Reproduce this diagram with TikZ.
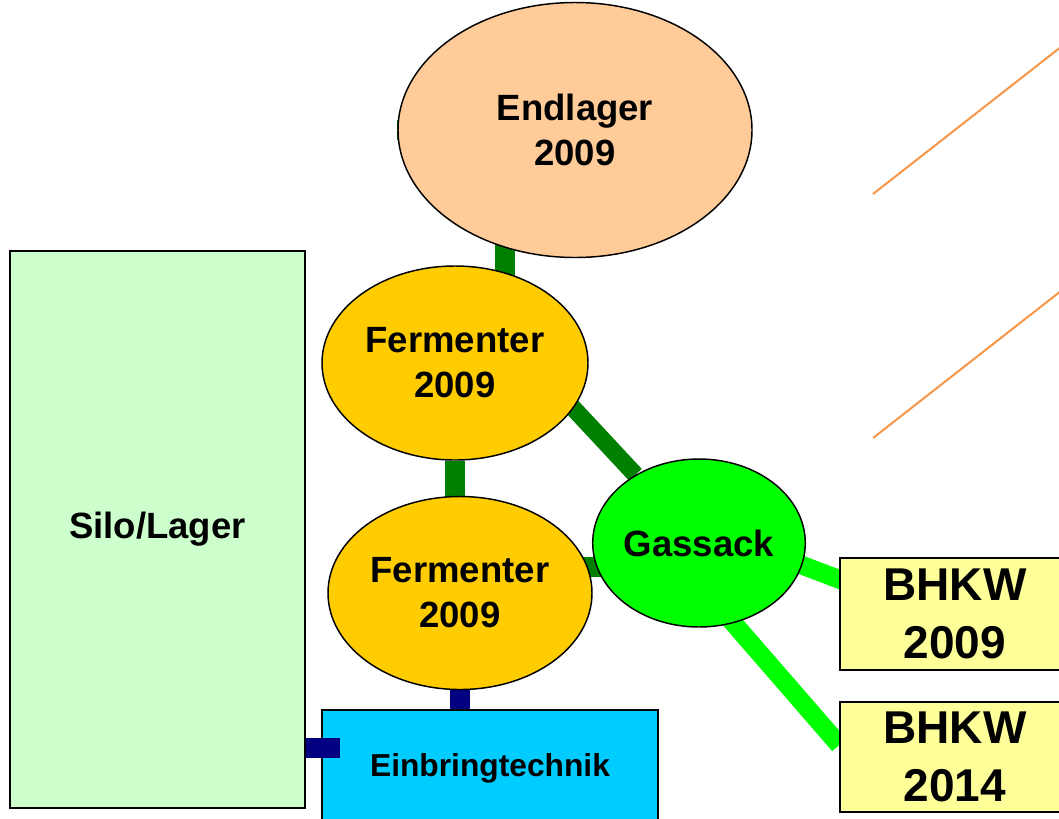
\documentclass[tikz,border=0pt]{standalone}
\usepackage{fontspec}
\setmainfont{Liberation Sans}
\usetikzlibrary{calc,shapes.geometric,backgrounds}
\definecolor{peach}{HTML}{FFCC99}
\definecolor{gold}{HTML}{FFCC00}
\definecolor{gasgreen}{HTML}{00FF00}
\definecolor{silogreen}{HTML}{CCFFCC}
\definecolor{feedcyan}{HTML}{00CCFF}
\definecolor{chpyellow}{HTML}{FFFF99}
\definecolor{pipegreen}{HTML}{007F00}
\definecolor{feednavy}{HTML}{000080}
\definecolor{leader}{HTML}{F79646}

\begin{document}
\begin{tikzpicture}[x=0.75pt,y=-0.75pt,
  tank/.style={ellipse,draw=black,line width=1.1pt,inner sep=0pt,align=center,
               font=\fontsize{27.4}{33.75}\selectfont\bfseries},
  block/.style={rectangle,draw=black,line width=1.1pt,inner sep=0pt,align=center},
  pipe/.style={line width=15pt,draw=pipegreen},
  gaspipe/.style={line width=14pt,draw=gasgreen},
  feedpipe/.style={line width=15pt,draw=feednavy}]
  \path[use as bounding box] (0,0) rectangle (1059,818);
  \clip (0,0) rectangle (1059,818);

  % ---- storage and digesters ----------------------------------------------
  \node[tank,fill=peach,minimum width=265.5pt,minimum height=191.25pt]
        (endlager) at (575,130) {Endlager\\2009};
  \node[tank,fill=gold,minimum width=199.5pt,minimum height=145.5pt]
        (ferm1) at (455,363) {Fermenter\\2009};
  \node[tank,fill=gold,minimum width=198pt,minimum height=144.75pt]
        (ferm2) at (460,593) {Fermenter\\2009};
  \node[tank,fill=gasgreen,minimum width=159pt,minimum height=126pt]
        (gassack) at (699,543) {Gassack};

  % ---- silo, feeding, CHP units ------------------------------------------
  \node[block,fill=silogreen,minimum width=221.25pt,minimum height=417.75pt,
        font=\fontsize{27.4}{33.75}\selectfont\bfseries]
        (silo) at (157.5,529.5) {Silo/Lager};
  \node[block,fill=feedcyan,minimum width=252pt,minimum height=87pt,
        font=\fontsize{23.8}{28}\selectfont\bfseries]
        (einbring) at (490,768) {Einbringtechnik};
  \node[block,fill=chpyellow,minimum width=172.5pt,minimum height=84pt,
        font=\fontsize{34.5}{44}\selectfont\bfseries]
        (bhkw1) at (955,614) {BHKW\\2009};
  \node[block,fill=chpyellow,minimum width=172.5pt,minimum height=82.5pt,
        font=\fontsize{34.5}{44}\selectfont\bfseries]
        (bhkw2) at (955,757) {BHKW\\2014};

  % ---- pipes, behind the tanks -------------------------------------------
  \begin{scope}[on background layer]
    \draw[pipe] ($(ferm1)+(50,0)$) |- (endlager);
    \draw[pipe] (ferm1) -- (ferm1 |- ferm2);
    \draw[pipe,line width=13pt] ($(ferm1)+(65,-12)$) -- (gassack);
    \draw[pipe] ($(ferm2)+(0,-26)$) -- ($(gassack)+(0,24)$);
    \draw[gaspipe] ($(gassack)+(0,-17)$) -- ($(bhkw1.west)+(20,-27)$);
    \draw[gaspipe] ($(gassack)+(-35,0)$) -- ($(bhkw2.west)+(0,-12)$);
    \draw[feedpipe] (ferm2) -- (ferm2 |- einbring);
  \end{scope}

  % silo feed stub sits on top of the feeding box
  \coordinate (feedin) at (340,748);
  \draw[feedpipe] (silo.east |- feedin) -- (feedin);

  % ---- leader lines on the right -----------------------------------------
  \coordinate (lead1a) at (873,194);  \coordinate (lead1b) at (1066,43);
  \coordinate (lead2a) at (873,438);  \coordinate (lead2b) at (1066,287);
  \draw[leader,line width=1.5pt] (lead1a) -- (lead1b);
  \draw[leader,line width=1.5pt] (lead2a) -- (lead2b);
\end{tikzpicture}
\end{document}
